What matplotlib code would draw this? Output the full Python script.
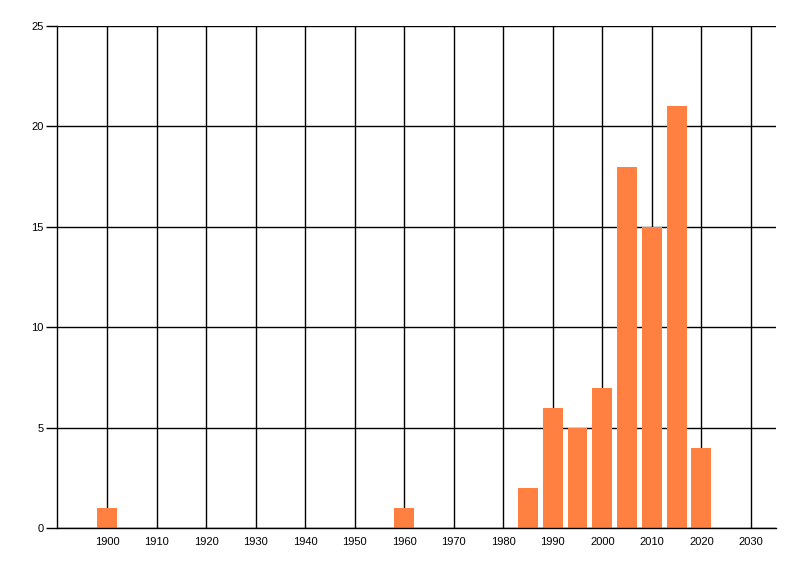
import matplotlib
matplotlib.use("Agg")
import matplotlib.pyplot as plt

years = [1900, 1960, 1985, 1990, 1995, 2000, 2005, 2010, 2015, 2020]
counts = [1, 1, 2, 6, 5, 7, 18, 15, 21, 4]
x_ticks = list(range(1900, 2031, 10))
y_ticks = [0, 5, 10, 15, 20, 25]

plt.rcParams['font.family'] = ['Liberation Sans', 'DejaVu Sans']

fig = plt.figure(figsize=(8, 5.76), dpi=100)
ax = fig.add_axes([57.5 / 800, (576 - 528.3) / 576, (775.7 - 57.5) / 800, (528.3 - 26) / 576])

ax.bar(years, counts, width=4, color='#FF8040', zorder=3)

ax.set_xlim(1890, 2035)
ax.set_ylim(0, 25)
ax.set_xticks(x_ticks)
ax.set_yticks(y_ticks)
ax.grid(True, color='black', linewidth=1, zorder=1)
ax.set_axisbelow(True)

for side in ['top', 'right']:
    ax.spines[side].set_visible(False)
for side in ['left', 'bottom']:
    ax.spines[side].set_linewidth(1)
    ax.spines[side].set_zorder(4)

ax.tick_params(axis='x', length=0, pad=6, labelsize=8)
ax.tick_params(axis='y', length=8, width=1, pad=2, labelsize=8)

fig.savefig('out.png', dpi=100)
